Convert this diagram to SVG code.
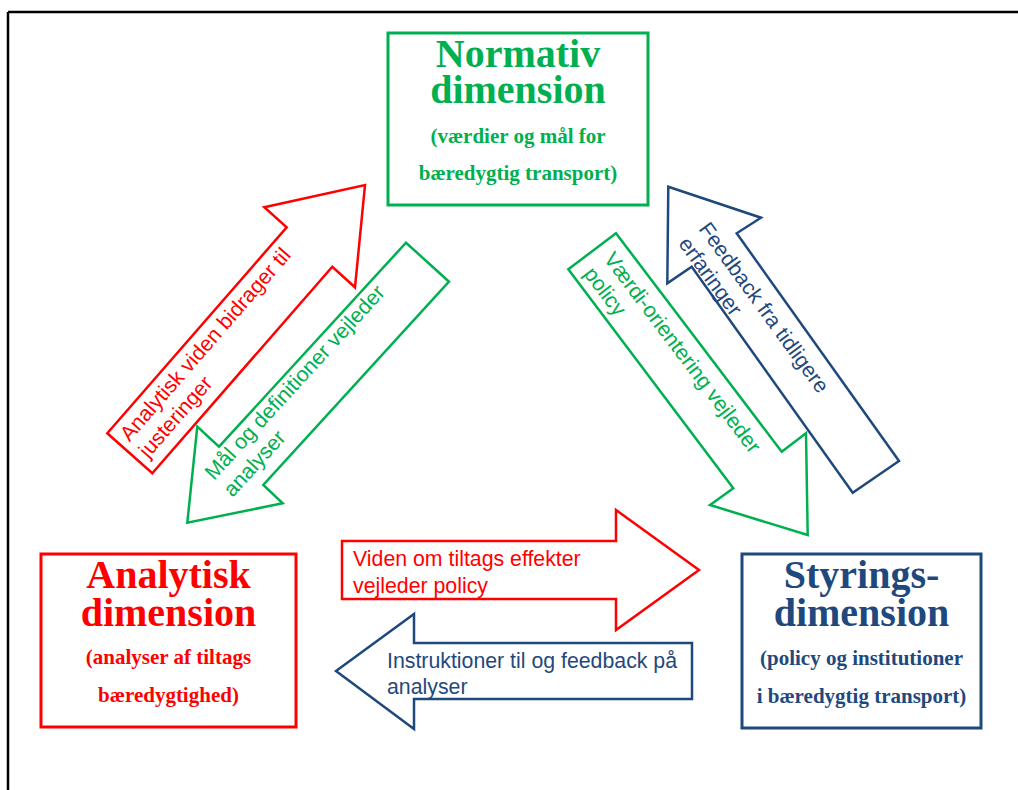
<svg xmlns="http://www.w3.org/2000/svg" width="1018" height="790" viewBox="0 0 1018 790">
<style>
.title{font-family:"Liberation Serif","Times New Roman",serif;font-weight:bold;font-size:40px;text-anchor:middle}
.sub{font-family:"Liberation Serif","Times New Roman",serif;font-weight:bold;font-size:21px;text-anchor:middle}
.lbl{font-family:"Liberation Sans",Arial,sans-serif;font-size:21.3px}
.box{fill:#fff;stroke-width:3}
.arr{fill:#fff;stroke-width:2.5;stroke-linejoin:miter}
.g{stroke:#00B050}.gt{fill:#00B050}
.r{stroke:#FF0000}.rt{fill:#FF0000}
.b{stroke:#1F497D}.bt{fill:#1F497D}
</style>
<rect width="1018" height="790" fill="#fff"/>
<g id="frame" stroke="#000" stroke-width="2.5" fill="none">
<line x1="8" y1="12" x2="1018" y2="12"/>
<line x1="8" y1="12" x2="8" y2="790"/>
</g>
<g id="connectors">
<g id="arrow-analytisk-normativ">
<polygon class="arr r" points="107.3,433.3 286.7,227.3 264.3,207.3 365,185 355,287.3 332.3,266.7 152.3,473.3"/>
<text class="lbl rt" transform="translate(129.5,442.5) rotate(-49)"><tspan x="0" y="0">Analytisk viden bidrager til</tspan><tspan x="0" y="25">justeringer</tspan></text>
</g>
<g id="arrow-normativ-analytisk">
<polygon class="arr g" points="406,242.7 449,281.7 263.3,485 282.7,503.3 187.3,522.7 197.3,426.7 219,446.7"/>
<text class="lbl gt" transform="translate(214,481) rotate(-47.5)"><tspan x="0" y="0">Mål og definitioner vejleder</tspan><tspan x="0" y="25">analyser</tspan></text>
</g>
<g id="arrow-normativ-styrings">
<polygon class="arr g" points="568.3,269.3 616,233.3 781.7,451.7 806,433.3 807.7,535 710,505 733.3,488.3"/>
<text class="lbl gt" transform="translate(603,259) rotate(53)"><tspan x="0" y="0">Værdi-orientering vejleder</tspan><tspan x="0" y="25">policy</tspan></text>
</g>
<g id="arrow-styrings-normativ">
<polygon class="arr b" points="668.3,186.7 761,217.7 736.7,233.3 899,461 852.7,492.7 691.7,266.7 667.3,283.3"/>
<text class="lbl bt" transform="translate(698,229) rotate(54)"><tspan x="0" y="0">Feedback fra tidligere</tspan><tspan x="0" y="25">erfaringer</tspan></text>
</g>
<g id="arrow-analytisk-styrings">
<polygon class="arr r" points="342,541 616,541 616,510 699,570 616,630 616,599 342,599"/>
<text class="lbl rt"><tspan x="353" y="566">Viden om tiltags effekter</tspan><tspan x="353" y="593">vejleder policy</tspan></text>
</g>
<g id="arrow-styrings-analytisk">
<polygon class="arr b" points="692,643 414,643 414,614 336,671 414,729 414,699 692,699"/>
<text class="lbl bt"><tspan x="387" y="668">Instruktioner til og feedback på</tspan><tspan x="387" y="694">analyser</tspan></text>
</g>
</g>
<g id="normativ">
<rect class="box g" x="388" y="33" width="260" height="172"/>
<text class="title gt" x="518" y="67">Normativ</text>
<text class="title gt" x="518" y="103">dimension</text>
<text class="sub gt" x="518" y="143">(værdier og mål for</text>
<text class="sub gt" x="518" y="180">bæredygtig transport)</text>
</g>
<g id="analytisk">
<rect class="box r" x="41" y="554" width="255" height="173"/>
<text class="title rt" x="168.5" y="588">Analytisk</text>
<text class="title rt" x="168.5" y="626">dimension</text>
<text class="sub rt" x="168.5" y="664">(analyser af tiltags</text>
<text class="sub rt" x="168.5" y="702">bæredygtighed)</text>
</g>
<g id="styrings">
<rect class="box b" x="742" y="554" width="239" height="174"/>
<text class="title bt" x="861.5" y="588">Styrings-</text>
<text class="title bt" x="861.5" y="626">dimension</text>
<text class="sub bt" x="861.5" y="665">(policy og institutioner</text>
<text class="sub bt" x="861.5" y="703">i bæredygtig transport)</text>
</g>
</svg>
